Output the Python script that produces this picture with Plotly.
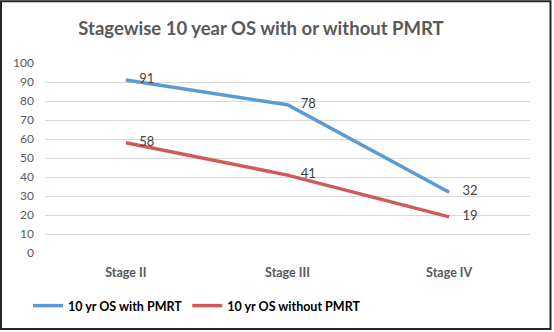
import plotly.graph_objects as go

categories = ["Stage II", "Stage III", "Stage IV"]
with_pmrt = [91, 78, 32]
without_pmrt = [58, 41, 19]
series_names = ["10 yr OS with PMRT", "10 yr OS without PMRT"]
y_ticks = list(range(0, 101, 10))

W, H = 554, 332
L, R, T, B = 45, 24, 63, 78
pw, ph = W - L - R, H - T - B

fig = go.Figure()
for name, vals, col in [(series_names[0], with_pmrt, "#5B9BD5"),
                        (series_names[1], without_pmrt, "#CF5A56")]:
    fig.add_trace(go.Scatter(
        x=categories, y=vals, name="<b>" + name + "</b>", mode="lines+text",
        line=dict(color=col, width=3.5),
        text=["    " + str(v) for v in vals], textposition="middle right",
        textfont=dict(family="Lato", size=13, color="#404040"),
        cliponaxis=False,
    ))

def px_x(p):
    return (p - L) / pw

def px_y(p):
    return (H - B - p) / ph

fig.update_layout(
    width=W, height=H,
    margin=dict(l=L, r=R, t=T, b=B),
    paper_bgcolor="white", plot_bgcolor="white",
    title=dict(text="<b>Stagewise 10 year OS with or without PMRT</b>",
               x=261 / W, xanchor="center", y=1 - 29 / H, yanchor="middle",
               font=dict(family="Lato", size=18.5, color="#595959")),
    xaxis=dict(range=[-0.5, 2.5], showgrid=False, showline=False,
               zeroline=False, ticks="",
               tickvals=categories,
               ticktext=["<b>" + c + "</b>" for c in categories],
               tickfont=dict(family="Lato", size=12.5, color="#595959"),
               ticklabelstandoff=10),
    yaxis=dict(range=[0, 100], tickvals=y_ticks, showgrid=True,
               gridcolor="#D9D9D9", gridwidth=1.3, zeroline=False,
               showline=False, ticks="",
               tickfont=dict(family="Lato", size=12, color="#595959"),
               ticklabelstandoff=10),
    legend=dict(orientation="h", x=px_x(28), xanchor="left",
                y=px_y(306), yanchor="middle",
                font=dict(family="Lato", size=12.5, color="#000000"),
                itemwidth=30, tracegroupgap=0),
    showlegend=True,
    shapes=[dict(type="rect", xref="paper", yref="paper",
                 x0=px_x(1), x1=px_x(550.5), y0=px_y(330.5), y1=px_y(1),
                 line=dict(color="#262626", width=2), fillcolor="rgba(0,0,0,0)",
                 layer="above")],
)

fig.write_html("out.html")
